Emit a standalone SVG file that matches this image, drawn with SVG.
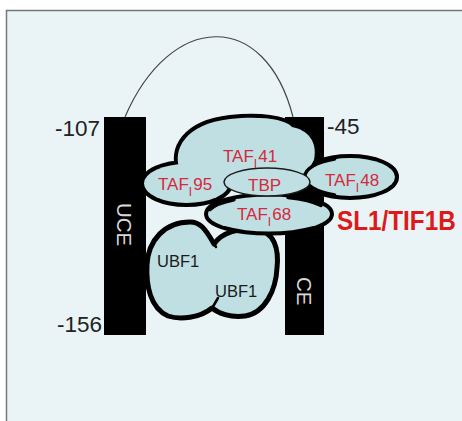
<svg xmlns="http://www.w3.org/2000/svg" width="462" height="421" viewBox="0 0 462 421">
<style>
.bar{fill:#000}
.num{font-family:"Liberation Sans",Arial,sans-serif;font-size:22.5px;fill:#222}
.vt{font-family:"Liberation Sans",Arial,sans-serif;font-size:20.5px;fill:#d8d8d8}
.taf{font-family:"Liberation Sans",Arial,sans-serif;font-size:17px;fill:#d42a3c}
.sub{font-size:12px}
.ubf{font-family:"Liberation Sans",Arial,sans-serif;font-size:16.5px;fill:#1a1a1a}
.ol{fill:#000;stroke:#000;stroke-width:8}
.fl{fill:#bfdfe3;stroke:none}
.seam{fill:none;stroke:#000;stroke-width:3.5;stroke-linecap:round}
</style>
<rect x="0" y="0" width="462" height="421" fill="#ffffff"/>
<rect x="6.5" y="10.5" width="470" height="420" fill="#eaf4f6" stroke="#777" stroke-width="1.5"/>

<g id="connectors">
<path d="M125,117 C170,12 265,8 293,117" fill="none" stroke="#444" stroke-width="1.2"/>
</g>

<g id="UCE">
<rect class="bar" x="104" y="117" width="42" height="218"/>
<text class="vt" transform="translate(117,203) rotate(90)">UCE</text>
</g>
<g id="CE">
<rect class="bar" x="285" y="117" width="39" height="218"/>
<text class="vt" transform="translate(297,277) rotate(90)">CE</text>
</g>

<g id="labels">
<text class="num" x="55" y="136">-107</text>
<text class="num" x="327" y="134">-45</text>
<text class="num" x="57" y="332">-156</text>
</g>

<g id="UBF1">
<path d="M214,244 C222,232 240,228 255,229 C275,231 279,250 277,268 C276,290 265,313 245,316 C230,318 218,313 212,308 C200,318 180,320 168,316 C150,308 146,285 147,265 C148,240 165,222 190,222 C200,222 205,228 214,244 Z" fill="#bfdfe3" stroke="#000" stroke-width="5" stroke-linejoin="round"/>
<path d="M203,227 L216,247" fill="none" stroke="#000" stroke-width="2.5" stroke-linecap="round"/>
<path d="M211,310 L218,298" fill="none" stroke="#000" stroke-width="2.5" stroke-linecap="round"/>
<text class="ubf" x="157" y="267">UBF1</text>
<text class="ubf" x="215" y="297">UBF1</text>
</g>

<g id="SL1">
<path class="ol" d="M180,170 C172,150 185,124 230,119 C260,116 285,119 292,127 C308,130 318,142 314,160 L300,185 L190,185 Z"/>
<ellipse class="ol" cx="186.5" cy="183.5" rx="42.5" ry="19.5"/>
<ellipse class="ol" cx="350" cy="177" rx="45" ry="19"/>
<ellipse class="ol" cx="269" cy="214" rx="61" ry="17.5"/>
<path class="fl" d="M180,170 C172,150 185,124 230,119 C260,116 285,119 292,127 C308,130 318,142 314,160 L300,185 L190,185 Z"/>
<ellipse class="fl" cx="186.5" cy="183.5" rx="42.5" ry="19.5"/>
<ellipse class="fl" cx="350" cy="177" rx="45" ry="19"/>
<ellipse class="fl" cx="269" cy="214" rx="61" ry="17.5"/>
<path class="seam" d="M210,209.5 A61,17.5 0 0 1 234,199.7"/>
<path class="seam" d="M334.6,159.1 A45,19 0 0 0 334.6,194.9"/>
<path class="seam" d="M288,197.5 A61,17.5 0 0 1 321,205.5"/>
<ellipse cx="267" cy="182" rx="43" ry="14" fill="#bfdfe3" stroke="#1a1a1a" stroke-width="1.5"/>
<text class="taf" x="223" y="162">TAF<tspan class="sub" dy="6">I</tspan><tspan dy="-6" dx="1">41</tspan></text>
<text class="taf" x="158" y="190">TAF<tspan class="sub" dy="6">I</tspan><tspan dy="-6" dx="1">95</tspan></text>
<text class="taf" x="248" y="191">TBP</text>
<text class="taf" x="325" y="186">TAF<tspan class="sub" dy="6">I</tspan><tspan dy="-6" dx="1">48</tspan></text>
<text class="taf" x="237" y="220">TAF<tspan class="sub" dy="6">I</tspan><tspan dy="-6" dx="1">68</tspan></text>
<text transform="translate(337,230) scale(1,1.12)" font-family="Liberation Sans,Arial,sans-serif" font-size="24.3" font-weight="bold" fill="#dd1a1a">SL1/TIF1B</text>
</g>
</svg>
